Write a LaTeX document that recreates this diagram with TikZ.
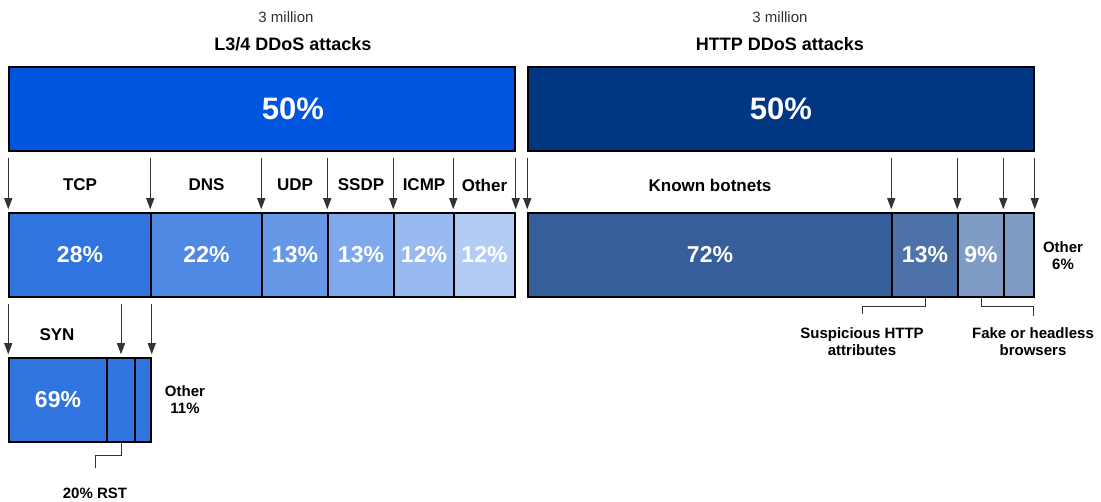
\documentclass[tikz,border=0pt]{standalone}
\usepackage{fontspec}
\setmainfont{Liberation Sans}
\usetikzlibrary{arrows.meta}

\definecolor{cL34}{HTML}{0055DE}
\definecolor{cHTTP}{HTML}{003682}
\definecolor{cTCP}{HTML}{3074E0}
\definecolor{cDNS}{HTML}{4F89E4}
\definecolor{cUDP}{HTML}{6798E8}
\definecolor{cSSDP}{HTML}{80A8EC}
\definecolor{cICMP}{HTML}{99BAF0}
\definecolor{cLOth}{HTML}{B3CCF4}
\definecolor{cBot}{HTML}{355E9B}
\definecolor{cSusp}{HTML}{4D72A9}
\definecolor{cFake}{HTML}{809BC4}
\definecolor{inkgray}{HTML}{333333}

\tikzset{
  seg/.style={draw=black, line width=1.5pt, inner sep=0pt, minimum height=84,
    text=white, font=\bfseries\fontsize{23}{27}\selectfont},
  big/.style={text=white, font=\bfseries\fontsize{31}{36}\selectfont},
  lab/.style={text=black, font=\bfseries\fontsize{17}{20}\selectfont},
  ttl/.style={text=black, font=\bfseries\fontsize{18}{21}\selectfont},
  sub/.style={text=inkgray, font=\fontsize{15}{18}\selectfont},
  note/.style={text=black, align=center, font=\bfseries\fontsize{15}{17}\selectfont},
  arr/.style={->, draw=inkgray, line width=1pt, shorten >=3pt},
  brk/.style={draw=inkgray, line width=1pt},
}

\begin{document}
\begin{tikzpicture}[x=1pt, y=-1pt, >={Triangle[length=11pt,width=8pt]}]
    \useasboundingbox (0,0) rectangle (1101,502);

    % headers
    \node[sub] (l34num) at (286,17) {3 million};
    \node[ttl] (l34ttl) at (293,44) {L3/4 DDoS attacks};
    \node[sub] (httpnum) at (780,17) {3 million};
    \node[ttl] (httpttl) at (780,44) {HTTP DDoS attacks};

    % top bars
    \node[seg, fill=cL34, minimum width=506] (l34) at (262,109) {};
    \node[big] (l34pct) at (293,109) {50\%};
    \node[seg, fill=cHTTP, minimum width=506, font=\bfseries\fontsize{31}{36}\selectfont] (http) at (781,109) {50\%};

    % second row and SYN breakdown
    \foreach \n/\l/\r/\c/\y/\t in {tcp/9/151/cTCP/255/28\%, dns/151/262/cDNS/255/22\%,
        udp/262/328/cUDP/255/13\%, ssdp/328/394/cSSDP/255/13\%, icmp/394/454/cICMP/255/12\%,
        lother/454/515/cLOth/255/12\%, bot/528/892/cBot/255/72\%, susp/892/958/cSusp/255/13\%,
        fake/958/1004/cFake/255/9\%, rother/1004/1034/cFake/255/{},
        syn/9/107/cTCP/400/69\%, rst/107/135/cTCP/400/{}, tother/135/151/cTCP/400/{}} {
        \node[seg, fill=\c, minimum width={\r-\l}] (\n) at ({(\l+\r)/2},\y) {\t};
    }

    \foreach \n/\t in {tcp/TCP, dns/DNS, udp/UDP, ssdp/SSDP, icmp/ICMP, lother/Other, bot/Known botnets} {
        \node[lab] (lab-\n) at (\n.north |- 0,185) {\t};
    }
    \node[lab] (lab-syn) at (57,335) {SYN};

    % arrows
    \foreach \n in {tcp,dns,udp,ssdp,icmp,lother} {
        \draw[arr] ([yshift=-6pt]l34.south -| \n.north west) -- (\n.north west);
    }
    \draw[arr] ([yshift=-6pt]l34.south -| lother.north east) -- (lother.north east);
    \foreach \n in {bot,susp,fake,rother} {
        \draw[arr] ([yshift=-6pt]http.south -| \n.north west) -- (\n.north west);
    }
    \draw[arr] ([yshift=-6pt]http.south -| rother.north east) -- (rother.north east);
    \draw[arr] ([yshift=-6pt]tcp.south -| syn.north west) -- (syn.north west);
    \draw[arr] ([yshift=-6pt]tcp.south -| rst.north) -- (rst.north);
    \draw[arr] ([yshift=-6pt]tcp.south -| tother.north east) -- (tother.north east);

    % side labels and brackets
    \node[note] (rother-lab) at (1063,256) {Other\\6\%};
    \node[note] (tother-lab) at (185,400) {Other\\11\%};
    \node[note] (susp-lab) at (862,342) {Suspicious HTTP\\attributes};
    \node[note] (fake-lab) at (1033,342) {Fake or headless\\browsers};
    \node[note] (rst-lab) at (95,493) {20\% RST};
    \coordinate (susp-end) at (862,314);
    \coordinate (fake-end) at (1033,316);
    \coordinate (rst-end) at (95,468);
    \draw[brk] (susp.south) -- ++(0,9) -| (susp-end);
    \draw[brk] (fake.south) -- ++(0,9) -| (fake-end);
    \draw[brk] (rst.south) -- ++(0,13) -| (rst-end);
\end{tikzpicture}
\end{document}
